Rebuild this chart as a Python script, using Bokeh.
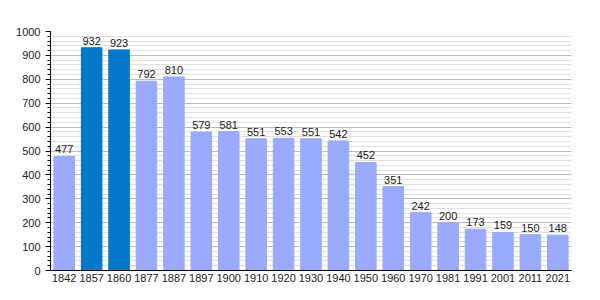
from bokeh.plotting import figure
from bokeh.models import ColumnDataSource, SingleIntervalTicker, Range1d, FactorRange, LabelSet
from bokeh.core.properties import value
from bokeh.embed import file_html
from bokeh.resources import INLINE

years = ["1842", "1857", "1860", "1877", "1887", "1897", "1900", "1910", "1920", "1930",
         "1940", "1950", "1960", "1970", "1981", "1991", "2001", "2011", "2021"]
population = [477, 932, 923, 792, 810, 579, 581, 551, 553, 551,
              542, 452, 351, 242, 200, 173, 159, 150, 148]
highlight = ["1857", "1860"]

colors = ["#0077c8" if y in highlight else "#99aaff" for y in years]
src = ColumnDataSource(dict(x=years, top=population, color=colors,
                            label=[str(v) for v in population]))

p = figure(width=600, height=300, x_range=FactorRange(*years, range_padding=0),
           y_range=Range1d(0, 1000), output_backend="svg", toolbar_location=None,
           min_border_left=50, min_border_right=29, min_border_top=31, min_border_bottom=30)
p.outline_line_color = None
p.vbar(x="x", top="top", width=0.75, color="color", source=src)

labels = LabelSet(x="x", y="top", text="label", source=src, text_align="center",
                  text_baseline="bottom", y_offset=3, text_font_size=value("11px"),
                  text_font=value("Liberation Sans"), text_color="#222222")
p.add_layout(labels)

p.yaxis.ticker = SingleIntervalTicker(interval=100, num_minor_ticks=5)
p.yaxis.major_label_text_font_size = "11px"
p.yaxis.major_label_text_font = "Liberation Sans"
p.yaxis.major_label_text_color = "#222222"
p.yaxis.major_tick_out = 5
p.yaxis.major_tick_in = 0
p.yaxis.minor_tick_out = 3
p.yaxis.minor_tick_in = 0
p.yaxis.axis_line_color = "black"
p.yaxis.major_tick_line_color = "black"
p.yaxis.minor_tick_line_color = "black"

p.xaxis.major_label_text_font_size = "11px"
p.xaxis.major_label_text_font = "Liberation Sans"
p.xaxis.major_label_text_color = "#222222"
p.xaxis.major_tick_line_color = None
p.xaxis.minor_tick_line_color = None
p.xaxis.major_tick_out = 0
p.xaxis.major_tick_in = 0
p.xaxis.axis_line_color = "black"
p.xaxis.major_label_standoff = 3

p.xgrid.grid_line_color = None
p.ygrid.grid_line_color = "#bbbbbb"
p.ygrid.minor_grid_line_color = "#e0e0e0"
p.ygrid.level = "underlay"

open("out.html", "w").write(file_html(p, INLINE))
